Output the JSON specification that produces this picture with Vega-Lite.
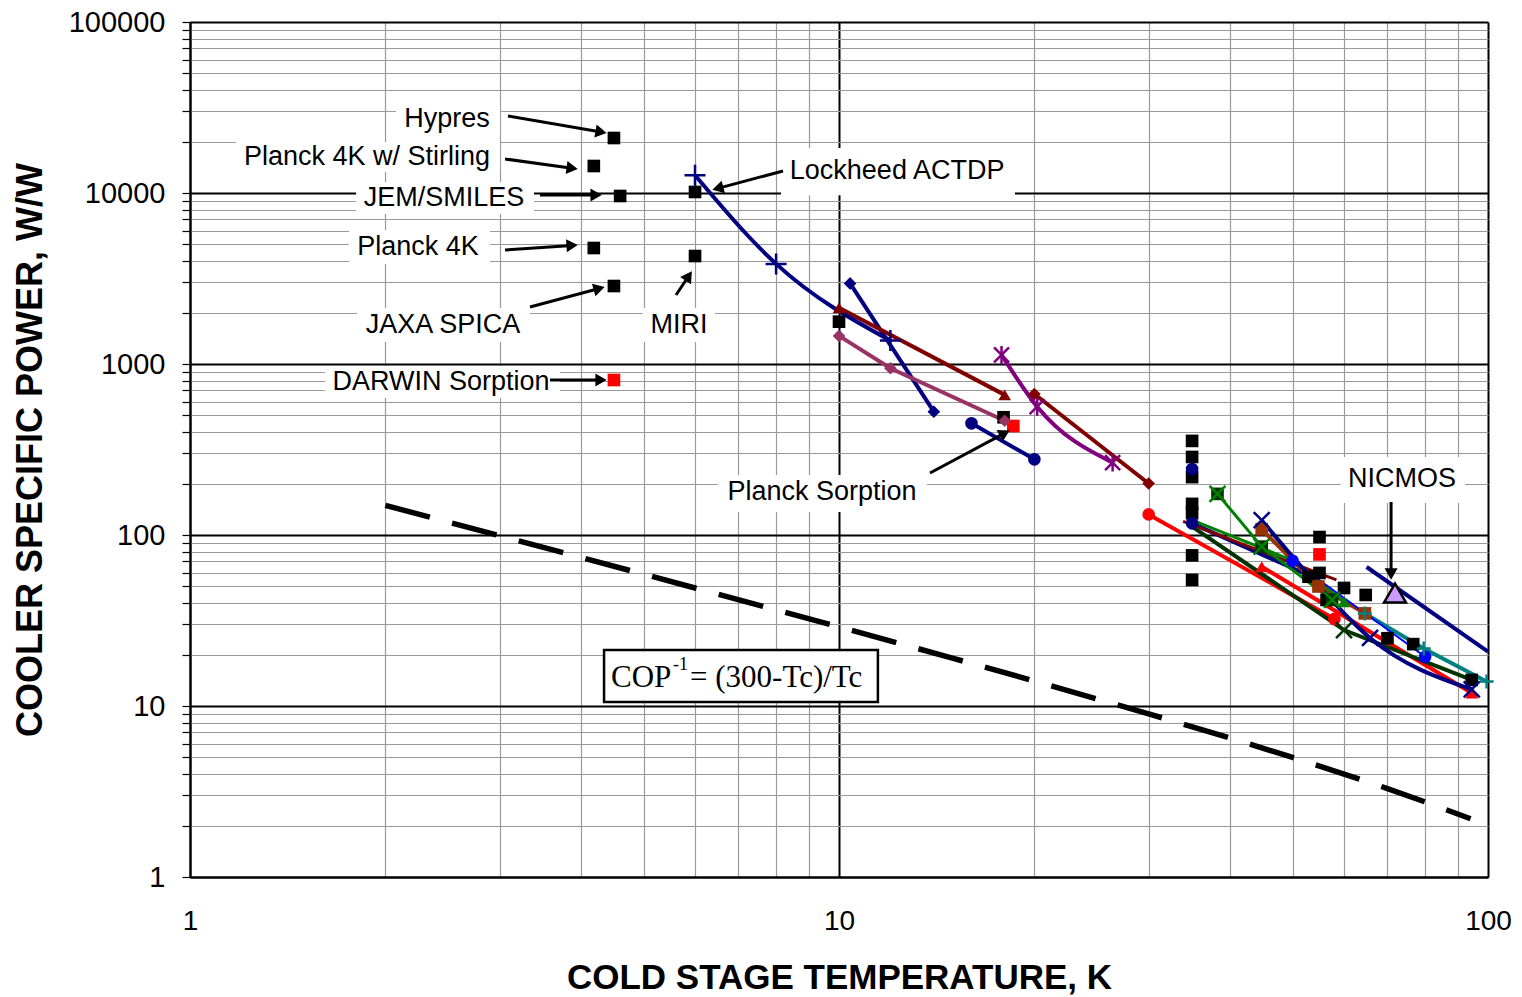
{
  "$schema": "https://vega.github.io/schema/vega-lite/v6.json",
  "width": 1298,
  "height": 855,
  "autosize": {"type": "none"},
  "padding": {"left": 190, "top": 22, "right": 34, "bottom": 120},
  "background": "white",
  "config": {"view": {"stroke": null}, "font": "Liberation Sans"},
  "resolve": {"scale": {"shape": "independent"}},
  "datasets": {
    "lines": [
      {"s": "s01", "x": 6, "y": 12700}, {"s": "s01", "x": 8, "y": 3850}, {"s": "s01", "x": 12, "y": 1370},
      {"s": "s02", "x": 10.4, "y": 2960}, {"s": "s02", "x": 14, "y": 526},
      {"s": "s03", "x": 10, "y": 2134}, {"s": "s03", "x": 18, "y": 660},
      {"s": "s04", "x": 10, "y": 1460}, {"s": "s04", "x": 12, "y": 945}, {"s": "s04", "x": 18, "y": 466},
      {"s": "s05", "x": 16, "y": 450}, {"s": "s05", "x": 20, "y": 277},
      {"s": "s06", "x": 17.8, "y": 1130}, {"s": "s06", "x": 20.2, "y": 563}, {"s": "s06", "x": 26.4, "y": 265},
      {"s": "s07", "x": 20, "y": 668}, {"s": "s07", "x": 30, "y": 200},
      {"s": "s08", "x": 30, "y": 132}, {"s": "s08", "x": 58, "y": 32.3},
      {"s": "s09", "x": 44.8, "y": 65.3}, {"s": "s09", "x": 94.4, "y": 11.9},
      {"s": "s10", "x": 33.9, "y": 120}, {"s": "s10", "x": 58.4, "y": 54.6},
      {"s": "s11", "x": 38.3, "y": 174}, {"s": "s11", "x": 44.8, "y": 85.5}, {"s": "s11", "x": 57.5, "y": 41.7},
      {"s": "s12", "x": 35, "y": 122}, {"s": "s12", "x": 50, "y": 71}, {"s": "s12", "x": 60, "y": 40.7},
      {"s": "s13", "x": 35, "y": 117}, {"s": "s13", "x": 53, "y": 58},
      {"s": "s14", "x": 44.8, "y": 122}, {"s": "s14", "x": 52.6, "y": 60}, {"s": "s14", "x": 65.8, "y": 25}, {"s": "s14", "x": 94.4, "y": 12.5},
      {"s": "s15", "x": 50, "y": 70.7}, {"s": "s15", "x": 80, "y": 19.4},
      {"s": "s16", "x": 35, "y": 112}, {"s": "s16", "x": 60, "y": 27.8}, {"s": "s16", "x": 94.4, "y": 14.2},
      {"s": "s17", "x": 44.8, "y": 108}, {"s": "s17", "x": 54.8, "y": 50}, {"s": "s17", "x": 64.6, "y": 34.8},
      {"s": "s18", "x": 64.6, "y": 34.8}, {"s": "s18", "x": 79.6, "y": 21.7}, {"s": "s18", "x": 99.5, "y": 13.9},
      {"s": "s19", "x": 65, "y": 65}, {"s": "s19", "x": 100, "y": 20.8}
    ],
    "markers": [
      {"s": "pts", "m": "square", "x": 4.5, "y": 20970},
      {"s": "pts", "m": "square", "x": 4.19, "y": 14385},
      {"s": "pts", "m": "square", "x": 4.6, "y": 9605},
      {"s": "pts", "m": "square", "x": 6.0, "y": 10140},
      {"s": "pts", "m": "square", "x": 4.19, "y": 4768},
      {"s": "pts", "m": "square", "x": 6.0, "y": 4280},
      {"s": "pts", "m": "square", "x": 4.5, "y": 2858},
      {"s": "pts", "m": "square", "x": 10, "y": 1768},
      {"s": "pts", "m": "square", "x": 17.93, "y": 488},
      {"s": "pts", "m": "square", "x": 35, "y": 355},
      {"s": "pts", "m": "square", "x": 35, "y": 286},
      {"s": "pts", "m": "square", "x": 35, "y": 218},
      {"s": "pts", "m": "square", "x": 35, "y": 152},
      {"s": "pts", "m": "square", "x": 35, "y": 134},
      {"s": "pts", "m": "square", "x": 35, "y": 76},
      {"s": "pts", "m": "square", "x": 35, "y": 54.6},
      {"s": "pts", "m": "square", "x": 55, "y": 97.3},
      {"s": "pts", "m": "square", "x": 55, "y": 60},
      {"s": "pts", "m": "square", "x": 52.9, "y": 57},
      {"s": "pts", "m": "square", "x": 60, "y": 49},
      {"s": "pts", "m": "square", "x": 64.8, "y": 44.6},
      {"s": "pts", "m": "square", "x": 56.4, "y": 41.7},
      {"s": "pts", "m": "square", "x": 70, "y": 24.9},
      {"s": "pts", "m": "square", "x": 76.7, "y": 23},
      {"s": "pts", "m": "square", "x": 94.4, "y": 14.2},
      {"s": "redpts", "m": "square", "x": 4.5, "y": 806},
      {"s": "redpts", "m": "square", "x": 18.56, "y": 434},
      {"s": "redpts", "m": "square", "x": 55, "y": 77},
      {"s": "s02", "m": "diamond", "x": 10.4, "y": 2960},
      {"s": "s02", "m": "diamond", "x": 14, "y": 526},
      {"s": "s03", "m": "triangle-up", "x": 10, "y": 2134},
      {"s": "s03", "m": "triangle-up", "x": 18, "y": 660},
      {"s": "s04", "m": "diamond", "x": 10, "y": 1460},
      {"s": "s04", "m": "diamond", "x": 12, "y": 945},
      {"s": "s04", "m": "diamond", "x": 18, "y": 466},
      {"s": "s05", "m": "circle", "x": 16, "y": 450},
      {"s": "s05", "m": "circle", "x": 20, "y": 277},
      {"s": "s07", "m": "diamond", "x": 20, "y": 668},
      {"s": "s07", "m": "diamond", "x": 30, "y": 200},
      {"s": "s08", "m": "circle", "x": 30, "y": 132},
      {"s": "s08", "m": "circle", "x": 58, "y": 32.3},
      {"s": "s09", "m": "triangle-up", "x": 44.8, "y": 65.3},
      {"s": "s09", "m": "triangle-up", "x": 94.4, "y": 11.9},
      {"s": "xbox", "m": "square", "x": 38.3, "y": 174},
      {"s": "xbox", "m": "square", "x": 44.8, "y": 85.5},
      {"s": "xbox", "m": "square", "x": 57.5, "y": 41.7},
      {"s": "s12", "m": "triangle-up", "x": 60, "y": 40.7},
      {"s": "s13", "m": "circle", "x": 35, "y": 117},
      {"s": "s13", "m": "circle", "x": 35, "y": 243},
      {"s": "s15", "m": "circle", "x": 50, "y": 70.7},
      {"s": "s15", "m": "circle", "x": 80, "y": 19.4},
      {"s": "s17", "m": "square", "x": 44.8, "y": 108},
      {"s": "s17", "m": "square", "x": 54.8, "y": 50},
      {"s": "s17", "m": "square", "x": 64.6, "y": 34.8}
    ],
    "strokemarkers": [
      {"s": "s01", "m": "plus", "x": 6, "y": 12700},
      {"s": "s01", "m": "plus", "x": 8, "y": 3850},
      {"s": "s01", "m": "plus", "x": 12, "y": 1370},
      {"s": "s06", "m": "star", "x": 17.8, "y": 1130},
      {"s": "s06", "m": "star", "x": 20.2, "y": 563},
      {"s": "s06", "m": "star", "x": 26.4, "y": 265},
      {"s": "s11", "m": "x", "x": 38.3, "y": 174},
      {"s": "s11", "m": "x", "x": 44.8, "y": 85.5},
      {"s": "s11", "m": "x", "x": 57.5, "y": 41.7},
      {"s": "s14", "m": "x", "x": 44.8, "y": 122},
      {"s": "s14", "m": "x", "x": 65.8, "y": 25},
      {"s": "s14", "m": "x", "x": 94.4, "y": 12.5},
      {"s": "s16", "m": "x", "x": 60, "y": 27.8},
      {"s": "s18", "m": "plus2", "x": 64.6, "y": 34.8},
      {"s": "s18", "m": "plus2", "x": 79.6, "y": 21.7},
      {"s": "s18", "m": "plus2", "x": 99.5, "y": 13.9}
    ],
    "nicmos": [{"x": 71.9, "y": 45.8}],
    "cop": [
      {"x": 2, "y": 149}, {"x": 3, "y": 99}, {"x": 4, "y": 74}, {"x": 5, "y": 59},
      {"x": 6, "y": 49}, {"x": 8, "y": 36.5}, {"x": 10, "y": 29}, {"x": 15, "y": 19},
      {"x": 20, "y": 14}, {"x": 30, "y": 9}, {"x": 40, "y": 6.5}, {"x": 50, "y": 5},
      {"x": 60, "y": 4}, {"x": 70, "y": 3.29}, {"x": 80, "y": 2.75}, {"x": 94, "y": 2.19}
    ],
    "copbox": [{"x": 4.345, "x2": 11.48, "y": 21.26, "y2": 10.55}],
    "coptext": [
      {"t": "COP", "x": 4.454, "y": 12.92},
      {"t": "= (300-Tc)/Tc", "x": 5.894, "y": 12.92}
    ],
    "copsup": [{"t": "-1", "x": 5.547, "y": 16.24}],
    "boxes": [
      {"x": 2.077, "x2": 3.004, "y": 34510, "y2": 21260},
      {"x": 1.177, "x2": 3.004, "y": 19870, "y2": 13270},
      {"x": 1.803, "x2": 3.389, "y": 11595, "y2": 7538},
      {"x": 1.758, "x2": 2.899, "y": 6076, "y2": 3845},
      {"x": 1.809, "x2": 3.341, "y": 2126, "y2": 1345},
      {"x": 4.989, "x2": 6.441, "y": 2126, "y2": 1345},
      {"x": 1.615, "x2": 3.717, "y": 973, "y2": 633},
      {"x": 8.14, "x2": 18.67, "y": 18340, "y2": 9700},
      {"x": 6.51, "x2": 13.67, "y": 224.3, "y2": 136.3},
      {"x": 59.37, "x2": 92.17, "y": 285.8, "y2": 153.9}
    ],
    "labels": [
      {"label": "Hypres", "x": 2.489, "y": 27080},
      {"label": "Planck 4K w/ Stirling", "x": 1.874, "y": 16240},
      {"label": "JEM/SMILES", "x": 2.462, "y": 9350},
      {"label": "Planck 4K", "x": 2.245, "y": 4833},
      {"label": "JAXA SPICA", "x": 2.454, "y": 1691},
      {"label": "MIRI", "x": 5.667, "y": 1691},
      {"label": "DARWIN Sorption", "x": 2.436, "y": 785},
      {"label": "Lockheed ACTDP", "x": 12.29, "y": 13450},
      {"label": "Planck Sorption", "x": 9.415, "y": 178.4},
      {"label": "NICMOS", "x": 73.7, "y": 212.6}
    ],
    "arrows": [
      {"x": 3.09, "y": 28200, "x2": 4.299, "y2": 22730},
      {"x": 3.058, "y": 15810, "x2": 3.88, "y2": 13960},
      {"x": 3.462, "y": 9734, "x2": 4.224, "y2": 9734},
      {"x": 8.198, "y": 13450, "x2": 6.506, "y2": 10640},
      {"x": 3.058, "y": 4642, "x2": 3.879, "y2": 4939},
      {"x": 3.341, "y": 2154, "x2": 4.27, "y2": 2764},
      {"x": 5.609, "y": 2532, "x2": 5.867, "y2": 3270},
      {"x": 3.587, "y": 806, "x2": 4.298, "y2": 806},
      {"x": 13.81, "y": 230.4, "x2": 18.0, "y2": 393.9},
      {"x": 70.9, "y": 156, "x2": 70.9, "y2": 59.14}
    ],
    "heads": [
      {"x": 4.299, "y": 22730, "a": 10},
      {"x": 3.88, "y": 13960, "a": 8},
      {"x": 4.224, "y": 9734, "a": 0},
      {"x": 6.506, "y": 10640, "a": 165},
      {"x": 3.879, "y": 4939, "a": 356},
      {"x": 4.27, "y": 2764, "a": 345},
      {"x": 5.867, "y": 3270, "a": 304},
      {"x": 4.298, "y": 806, "a": 0},
      {"x": 18.0, "y": 393.9, "a": 332},
      {"x": 70.9, "y": 59.14, "a": 90}
    ]
  },
  "encoding": {
    "x": {
      "field": "x", "type": "quantitative",
      "scale": {"type": "log", "domain": [1, 100], "nice": false},
      "axis": {
        "values": [1, 2, 3, 4, 5, 6, 7, 8, 9, 10, 20, 30, 40, 50, 60, 70, 80, 90, 100],
        "labelExpr": "indexof([1,10,100], datum.value) >= 0 ? '' + datum.value : ''",
        "labelOverlap": false, "labelFlush": false, "labelBound": false,
        "grid": true,
        "gridColor": {"condition": {"test": "indexof([1,10,100], datum.value) >= 0", "value": "#000000"}, "value": "#9a9a9a"},
        "gridWidth": {"condition": {"test": "indexof([1,10,100], datum.value) >= 0", "value": 2}, "value": 1.2},
        "ticks": false, "tickSize": 0,
        "domainColor": "#000000", "domainWidth": 2,
        "labelFont": "Liberation Sans", "labelFontSize": 28, "labelColor": "#000000", "labelPadding": 30,
        "title": "COLD STAGE TEMPERATURE, K",
        "titleFont": "Liberation Sans", "titleFontSize": 35, "titleFontWeight": "bold", "titleColor": "#000000",
        "titleX": 649, "titleY": 100, "titleBaseline": "middle", "titleAlign": "center"
      }
    },
    "y": {
      "field": "y", "type": "quantitative",
      "scale": {"type": "log", "domain": [1, 100000], "nice": false},
      "axis": {
        "values": [1, 2, 3, 4, 5, 6, 7, 8, 9, 10, 20, 30, 40, 50, 60, 70, 80, 90, 100, 200, 300, 400, 500, 600, 700, 800, 900, 1000, 2000, 3000, 4000, 5000, 6000, 7000, 8000, 9000, 10000, 20000, 30000, 40000, 50000, 60000, 70000, 80000, 90000, 100000],
        "labelExpr": "indexof([1,10,100,1000,10000,100000], datum.value) >= 0 ? '' + datum.value : ''",
        "labelOverlap": false, "labelFlush": false, "labelBound": false,
        "grid": true,
        "gridColor": {"condition": {"test": "indexof([1,10,100,1000,10000,100000], datum.value) >= 0", "value": "#000000"}, "value": "#9a9a9a"},
        "gridWidth": {"condition": {"test": "indexof([1,10,100,1000,10000,100000], datum.value) >= 0", "value": 2}, "value": 1.2},
        "ticks": true, "tickSize": 8, "tickColor": "#000000", "tickWidth": 1.2,
        "domainColor": "#000000", "domainWidth": 2,
        "labelFont": "Liberation Sans", "labelFontSize": 29, "labelColor": "#000000", "labelPadding": 17,
        "title": "COOLER SPECIFIC POWER, W/W",
        "titleFont": "Liberation Sans", "titleFontSize": 36, "titleFontWeight": "bold", "titleColor": "#000000",
        "titleX": -160, "titleY": 427.5, "titleBaseline": "middle", "titleAlign": "center", "titleAngle": -90
      }
    }
  },
  "layer": [
    {
      "data": {"name": "boxes"},
      "mark": {"type": "rect", "fill": "#ffffff"},
      "encoding": {"x2": {"field": "x2"}, "y2": {"field": "y2"}}
    },
    {
      "data": {"name": "cop"},
      "mark": {"type": "line", "color": "#000000", "strokeWidth": 5.5, "strokeDash": [46, 23], "strokeCap": "butt"},
      "encoding": {}
    },
    {
      "data": {"name": "copbox"},
      "mark": {"type": "rect", "fill": "#ffffff", "stroke": "#000000", "strokeWidth": 2.5},
      "encoding": {"x2": {"field": "x2"}, "y2": {"field": "y2"}}
    },
    {
      "data": {"name": "coptext"},
      "mark": {"type": "text", "font": "Liberation Serif", "fontSize": 31, "align": "left", "baseline": "alphabetic", "color": "#000000"},
      "encoding": {"text": {"field": "t"}}
    },
    {
      "data": {"name": "copsup"},
      "mark": {"type": "text", "font": "Liberation Serif", "fontSize": 18, "align": "left", "baseline": "alphabetic", "color": "#000000"},
      "encoding": {"text": {"field": "t"}}
    },
    {
      "data": {"name": "lines"},
      "transform": [{"filter": {"field": "s", "oneOf": ["s02", "s03", "s04", "s05", "s07", "s08", "s09", "s13", "s16", "s17", "s18", "s19"]}}],
      "mark": {"type": "line", "strokeWidth": 4},
      "encoding": {
        "detail": {"field": "s"},
        "color": {"field": "s", "type": "nominal", "legend": null,
          "scale": {
            "domain": ["s01", "s02", "s03", "s04", "s05", "s06", "s07", "s08", "s09", "s10", "s11", "s12", "s13", "s14", "s15", "s16", "s17", "s18", "s19", "pts", "redpts", "xbox"],
            "range": ["#000080", "#000080", "#800000", "#993366", "#000080", "#800080", "#800000", "#ff0000", "#ff0000", "#800000", "#008000", "#008000", "#000080", "#000080", "#0000ff", "#003300", "#993300", "#008080", "#000080", "#000000", "#ff0000", "#003300"]
          }
        }
      }
    },
    {
      "data": {"name": "lines"},
      "transform": [{"filter": {"field": "s", "oneOf": ["s10", "s11", "s12"]}}],
      "mark": {"type": "line", "strokeWidth": 3},
      "encoding": {"detail": {"field": "s"}, "color": {"field": "s", "type": "nominal", "legend": null}}
    },
    {
      "data": {"name": "lines"},
      "transform": [{"filter": {"field": "s", "oneOf": ["s15"]}}],
      "mark": {"type": "line", "strokeWidth": 2},
      "encoding": {"detail": {"field": "s"}, "color": {"field": "s", "type": "nominal", "legend": null}}
    },
    {
      "data": {"name": "lines"},
      "transform": [{"filter": {"field": "s", "oneOf": ["s01", "s06", "s14"]}}],
      "mark": {"type": "line", "strokeWidth": 4, "interpolate": "monotone"},
      "encoding": {"detail": {"field": "s"}, "color": {"field": "s", "type": "nominal", "legend": null}}
    },
    {
      "data": {"name": "markers"},
      "mark": {"type": "point", "filled": true, "size": 160, "opacity": 1},
      "encoding": {
        "color": {"field": "s", "type": "nominal", "legend": null},
        "shape": {"field": "m", "type": "nominal", "legend": null,
          "scale": {"domain": ["square", "circle", "diamond", "triangle-up"], "range": ["square", "circle", "diamond", "triangle-up"]}}
      }
    },
    {
      "data": {"name": "strokemarkers"},
      "mark": {"type": "point", "filled": false, "size": 400, "strokeWidth": 2.5, "opacity": 1},
      "encoding": {
        "color": {"field": "s", "type": "nominal", "legend": null},
        "shape": {"field": "m", "type": "nominal", "legend": null,
          "scale": {"domain": ["plus", "plus2", "x", "star"],
            "range": ["M-1.05,0L1.05,0M0,-1.05L0,1.05", "M-0.7,0L0.7,0M0,-0.7L0,0.7", "M-0.8,-0.8L0.8,0.8M-0.8,0.8L0.8,-0.8", "M-0.75,-0.75L0.75,0.75M-0.75,0.75L0.75,-0.75M0,-0.9L0,0.9"]}}
      }
    },
    {
      "data": {"name": "nicmos"},
      "mark": {"type": "point", "shape": "triangle-up", "filled": true, "fill": "#cc99ff", "stroke": "#000000", "strokeWidth": 2.5, "size": 480, "opacity": 1},
      "encoding": {}
    },
    {
      "data": {"name": "arrows"},
      "mark": {"type": "rule", "color": "#000000", "strokeWidth": 3},
      "encoding": {"x2": {"field": "x2"}, "y2": {"field": "y2"}}
    },
    {
      "data": {"name": "heads"},
      "mark": {"type": "point", "shape": "triangle-right", "filled": true, "color": "#000000", "size": 170, "opacity": 1},
      "encoding": {"angle": {"field": "a", "type": "quantitative", "scale": null}}
    },
    {
      "data": {"name": "labels"},
      "mark": {"type": "text", "font": "Liberation Sans", "fontSize": 27, "align": "center", "baseline": "middle", "color": "#000000"},
      "encoding": {"text": {"field": "label"}}
    }
  ]
}
